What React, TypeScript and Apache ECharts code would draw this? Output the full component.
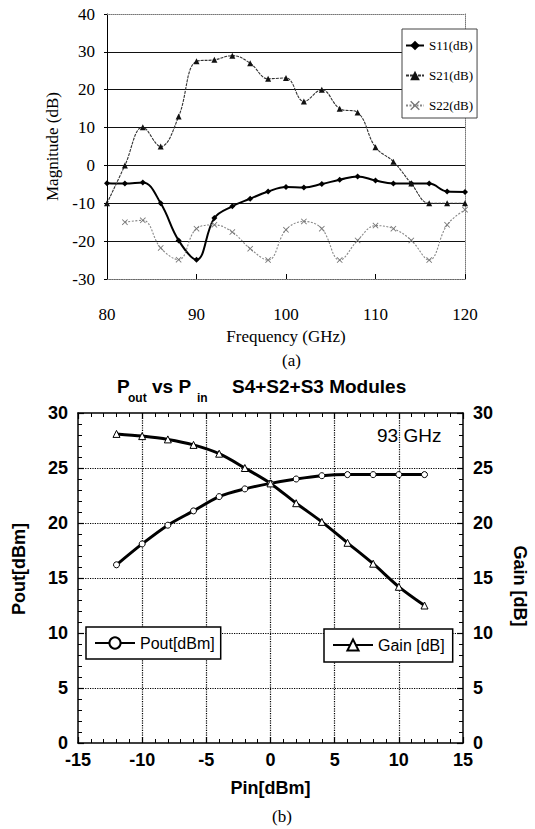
import React, { useEffect, useRef } from "react";
import * as echarts from "echarts";

// ---- Top chart (a): S-parameters vs frequency ----
const freqGHz = [80, 82, 84, 86, 88, 90, 92, 94, 96, 98, 100, 102, 104, 106, 108, 110, 112, 114, 116, 118, 120];
const s11dB = [-4.7, -4.8, -4.5, -10, -19.8, -24.9, -13.9, -10.8, -8.8, -6.9, -5.7, -5.8, -4.9, -3.8, -2.9, -4, -4.8, -4.8, -4.8, -6.9, -7];
const s21dB = [-10, 0, 10.1, 5, 12.9, 27.5, 27.9, 29, 27, 22.9, 23.1, 16.9, 20, 15, 14, 4.8, 1, -4.8, -10, -10, -10];
const s22dB = [null, -15, -14.5, -21.8, -24.9, -16.7, -15.7, -17.6, -22, -25, -17, -14.8, -16.7, -25, -19.8, -15.9, -16.7, -19.8, -25, -15.7, -11.7];
const topSeriesNames = ["S11(dB)", "S21(dB)", "S22(dB)"];

// ---- Bottom chart (b): Pout / Gain vs Pin ----
const pinDBm = [-12, -10, -8, -6, -4, -2, 0, 2, 4, 6, 8, 10, 12];
const poutDBm = [16.2, 18.1, 19.8, 21.1, 22.4, 23.1, 23.6, 24.0, 24.3, 24.4, 24.4, 24.4, 24.4];
const gainDB = [28.1, 27.9, 27.6, 27.1, 26.3, 25.0, 23.6, 21.8, 20.1, 18.2, 16.3, 14.2, 12.5];
const bottomSeriesNames = ["Pout[dBm]", "Gain [dB]"];

const zip = (xs: number[], ys: (number | null)[]) => xs.map((x, i) => [x, ys[i]]);

const serif = "'Liberation Serif', 'Times New Roman', serif";
const sans = "'Liberation Sans', Arial, Helvetica, sans-serif";
const crossPath = "path://M0,1L1,0L5,4L9,0L10,1L6,5L10,9L9,10L5,6L1,10L0,9L4,5Z";

export default function App() {
  const ref = useRef<HTMLDivElement>(null);

  useEffect(() => {
    if (!ref.current) return;
    const chart = echarts.init(ref.current, undefined, { renderer: "svg" });

    const topLabel = { fontFamily: serif, fontSize: 17, color: "#000" };
    const botLabel = { fontFamily: sans, fontSize: 18, fontWeight: "bold" as const, color: "#000" };
    const blackLine = { color: "#000", width: 1.5 };
    const dottedGrid = { show: true, showMinLine: false, showMaxLine: false, lineStyle: { color: "#000", width: 1.2, type: "dotted" } };
    const frameTick = { show: true, inside: true, length: 6, lineStyle: { color: "#000", width: 1.2 } };
    const frameMinor = { show: true, splitNumber: 5, length: 4, lineStyle: { color: "#000", width: 1 } };

    const option: any = {
      animation: false,
      backgroundColor: "#fff",
      grid: [
        { left: 107, top: 14, width: 358, height: 265 },
        { left: 78, top: 413, width: 385, height: 330 },
      ],
      xAxis: [
        {
          gridIndex: 0, type: "value", min: 80, max: 120, interval: 10, position: "bottom",
          axisLine: { show: true, onZero: false, lineStyle: { color: "#666", type: "dotted", width: 1.2 } },
          axisTick: { show: true, inside: true, length: 5, lineStyle: { color: "#000" } },
          axisLabel: { ...topLabel, margin: 27 },
          splitLine: { show: false },
          name: "Frequency (GHz)", nameLocation: "middle", nameGap: 49,
          nameTextStyle: { ...topLabel },
        },
        {
          gridIndex: 0, type: "value", min: 80, max: 120, interval: 10, position: "top",
          axisLine: { show: true, onZero: false, lineStyle: { color: "#777", type: "dotted", width: 1 } },
          axisTick: { show: false }, axisLabel: { show: false }, splitLine: { show: false },
        },
        {
          gridIndex: 1, type: "value", min: -15, max: 15, interval: 5, position: "bottom",
          axisLine: { show: true, onZero: false, lineStyle: blackLine },
          axisTick: frameTick, minorTick: frameMinor,
          axisLabel: { ...botLabel, margin: 8 },
          splitLine: dottedGrid,
          name: "Pin[dBm]", nameLocation: "middle", nameGap: 36,
          nameTextStyle: { ...botLabel },
        },
        {
          gridIndex: 1, type: "value", min: -15, max: 15, interval: 5, position: "top",
          axisLine: { show: true, onZero: false, lineStyle: blackLine },
          axisTick: frameTick, minorTick: frameMinor,
          axisLabel: { show: false }, splitLine: { show: false },
        },
      ],
      yAxis: [
        {
          gridIndex: 0, type: "value", min: -30, max: 40, interval: 10, position: "left",
          axisLine: { show: true, onZero: false, lineStyle: { color: "#000", width: 1 } },
          axisTick: { show: true, inside: false, length: 3, lineStyle: { color: "#000" } },
          axisLabel: { ...topLabel, margin: 12 },
          splitLine: { show: true, showMinLine: false, showMaxLine: false, lineStyle: { color: "#111", width: 1 } },
          name: "Magnitude (dB)", nameLocation: "middle", nameGap: 31,
          nameTextStyle: { ...topLabel },
        },
        {
          gridIndex: 0, type: "value", min: -30, max: 40, interval: 10, position: "right",
          axisLine: { show: true, onZero: false, lineStyle: { color: "#777", type: "dotted", width: 1 } },
          axisTick: { show: false }, axisLabel: { show: false }, splitLine: { show: false },
        },
        {
          gridIndex: 1, type: "value", min: 0, max: 30, interval: 5, position: "left",
          axisLine: { show: true, onZero: false, lineStyle: blackLine },
          axisTick: frameTick, minorTick: frameMinor,
          axisLabel: { ...botLabel, margin: 10 },
          splitLine: dottedGrid,
        },
        {
          gridIndex: 1, type: "value", min: 0, max: 30, interval: 5, position: "right",
          axisLine: { show: true, onZero: false, lineStyle: blackLine },
          axisTick: frameTick, minorTick: frameMinor,
          axisLabel: { ...botLabel, margin: 10 },
          splitLine: { show: false },
        },
      ],
      legend: [
        {
          data: topSeriesNames, orient: "vertical", left: 402, top: 29,
          padding: [10, 4, 6, 3], itemGap: 17, itemWidth: 18, itemHeight: 12,
          borderColor: "#444", borderWidth: 1, backgroundColor: "#fff",
          textStyle: { fontFamily: serif, fontSize: 13, color: "#000" },
        },
        {
          data: [bottomSeriesNames[0]], left: 86, top: 627,
          padding: [8, 6, 8, 8], itemWidth: 40, itemHeight: 14, itemGap: 0,
          borderColor: "#000", borderWidth: 1.5, backgroundColor: "#fff",
          textStyle: { fontFamily: sans, fontSize: 16, color: "#000" },
        },
        {
          data: [bottomSeriesNames[1]], left: 324, top: 629,
          padding: [8, 8, 9, 8], itemWidth: 40, itemHeight: 14, itemGap: 0,
          borderColor: "#000", borderWidth: 1.5, backgroundColor: "#fff",
          textStyle: { fontFamily: sans, fontSize: 16, color: "#000" },
        },
      ],
      series: [
        {
          name: topSeriesNames[0], type: "line", xAxisIndex: 0, yAxisIndex: 0,
          data: zip(freqGHz, s11dB), smooth: 0.4,
          symbol: "diamond", symbolSize: 6,
          lineStyle: { color: "#000", width: 2 }, itemStyle: { color: "#000" },
        },
        {
          name: topSeriesNames[1], type: "line", xAxisIndex: 0, yAxisIndex: 0,
          data: zip(freqGHz, s21dB), smooth: 0.4,
          symbol: "triangle", symbolSize: 6,
          lineStyle: { color: "#333", width: 1.1, type: [3, 1] }, itemStyle: { color: "#111" },
        },
        {
          name: topSeriesNames[2], type: "line", xAxisIndex: 0, yAxisIndex: 0,
          data: zip(freqGHz, s22dB), smooth: 0.4, connectNulls: false,
          symbol: crossPath, symbolSize: 6,
          lineStyle: { color: "#888", width: 1.1, type: [2, 1.5] }, itemStyle: { color: "#777" },
        },
        {
          name: bottomSeriesNames[0], type: "line", xAxisIndex: 2, yAxisIndex: 2,
          data: zip(pinDBm, poutDBm), smooth: 0.3,
          symbol: "circle", symbolSize: 6,
          lineStyle: { color: "#000", width: 3 },
          itemStyle: { color: "#fff", borderColor: "#000", borderWidth: 1 },
        },
        {
          name: bottomSeriesNames[1], type: "line", xAxisIndex: 2, yAxisIndex: 3,
          data: zip(pinDBm, gainDB), smooth: 0.3,
          symbol: "triangle", symbolSize: 7,
          lineStyle: { color: "#000", width: 3 },
          itemStyle: { color: "#fff", borderColor: "#000", borderWidth: 1 },
        },
      ],
      graphic: [
        { type: "text", left: 117, top: 377, style: { text: "P", font: `bold 19px ${sans}`, fill: "#000" } },
        { type: "text", left: 128, top: 392, style: { text: "out", font: `bold 12px ${sans}`, fill: "#000" } },
        { type: "text", left: 152, top: 377, style: { text: "vs P", font: `bold 19px ${sans}`, fill: "#000" } },
        { type: "text", left: 197, top: 392, style: { text: "in", font: `bold 12px ${sans}`, fill: "#000" } },
        { type: "text", left: 232, top: 377, style: { text: "S4+S2+S3 Modules", font: `bold 19px ${sans}`, fill: "#000" } },
        { type: "text", left: 377, top: 426, style: { text: "93 GHz", font: `19px ${sans}`, fill: "#000" } },
        { type: "text", left: 282, top: 352, style: { text: "(a)", font: `17px ${serif}`, fill: "#000" } },
        { type: "text", left: 272, top: 808, style: { text: "(b)", font: `17px ${serif}`, fill: "#000" } },
        {
          type: "text", x: 19, y: 569, rotation: Math.PI / 2,
          style: { text: "Pout[dBm]", font: `bold 18px ${sans}`, fill: "#000", align: "center", verticalAlign: "middle" },
        },
        {
          type: "text", x: 520, y: 586, rotation: -Math.PI / 2,
          style: { text: "Gain [dB]", font: `bold 18px ${sans}`, fill: "#000", align: "center", verticalAlign: "middle" },
        },
      ],
    };

    chart.setOption(option);
    return () => chart.dispose();
  }, []);

  return (
    <div
      ref={ref}
      style={{ position: "absolute", left: 0, top: 0, width: 535, height: 829, background: "#fff" }}
    />
  );
}
